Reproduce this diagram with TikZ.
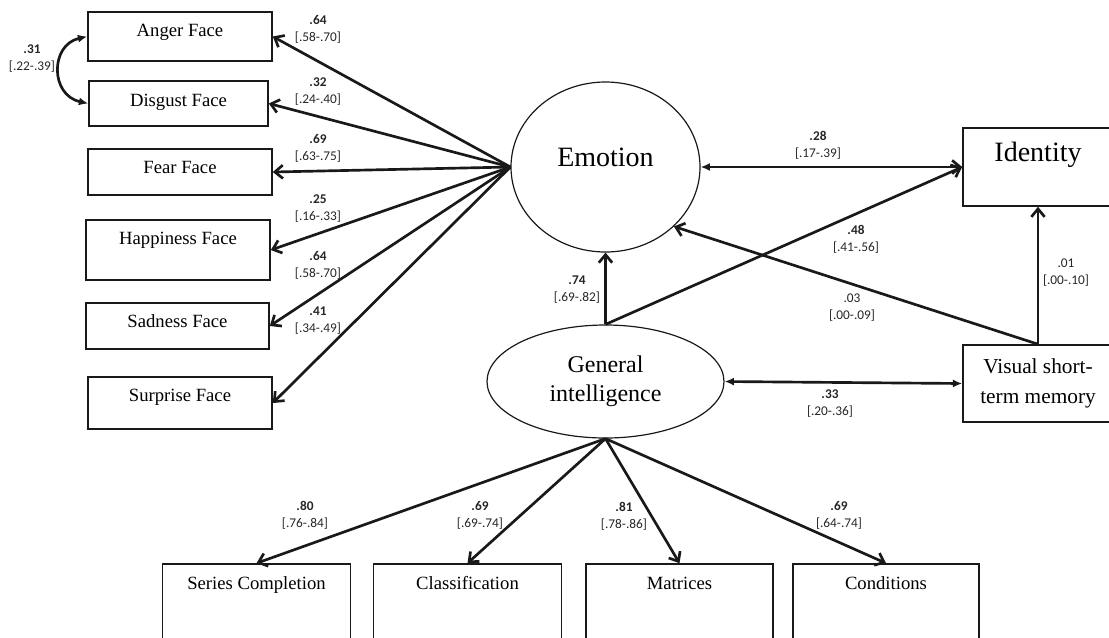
\documentclass[tikz,border=0pt]{standalone}
\usepackage{fontspec}
\setmainfont{Liberation Serif}
\newfontfamily\numfont{Carlito}
\usepackage{tikz}
\colorlet{colorLine}{black!90}
\colorlet{colorNum}{black!85}
\usetikzlibrary{arrows.meta}
\usetikzlibrary{shapes}
\tikzset{
   every path/.style={>={Straight Barb[length=6pt,width=10pt]}},
   obs/.style={draw=colorLine,line width=1.2pt,inner sep=0pt,font=\fontsize{14}{17}\selectfont},
   txtup/.style={text height=10pt,text depth=#1},
   lat/.style={ellipse,draw=colorLine,line width=0.9pt,inner sep=0pt,align=center},
   coef/.style={font=\numfont\fontsize{10}{12.75}\selectfont,align=center,inner sep=0pt,text=colorNum},
   load/.style={->,color=colorLine,line width=2pt},
   corr/.style={{Latex[length=7pt,width=6pt]}-{Latex[length=7pt,width=6pt]},color=colorLine,line width=2pt},
   corrid/.style={{Latex[length=7pt,width=6pt]}->,color=colorLine,line width=2pt},
}
\newcommand{\lEst}[2]{\textbf{#1}\\\relax[#2]}
\newcommand{\lNs}[2]{#1\\\relax[#2]}

\begin{document}
\begin{tikzpicture}[x=0.75pt,y=-0.75pt]
        \useasboundingbox (0,0) rectangle (1109,637);
        \clip (0,0) rectangle (1109,637);

        % emotion indicators
        \node[obs,minimum width=138pt,minimum height=36.75pt,txtup=10.6pt] (anger) at (180,36.5) {Anger Face};
        \node[obs,minimum width=134.25pt,minimum height=33.75pt,txtup=6pt] (disgust) at (178.5,103.5) {Disgust Face};
        \node[obs,minimum width=138pt,minimum height=34.5pt,txtup=8.3pt] (fear) at (180,172) {Fear Face};
        \node[obs,minimum width=138pt,minimum height=45pt,txtup=18pt] (happy) at (178,250) {Happiness Face};
        \node[obs,minimum width=137.25pt,minimum height=34.5pt,txtup=7.6pt] (sad) at (177.5,326) {Sadness Face};
        \node[obs,minimum width=138pt,minimum height=39pt,txtup=12.8pt] (surprise) at (180,403) {Surprise Face};

        % latent factors
        \node[lat,minimum width=141.75pt,minimum height=127.5pt,font=\fontsize{21}{25}\selectfont,text height=14pt,text depth=15pt] (emo) at (605.5,167) {Emotion};
        \node[lat,minimum width=177.75pt,minimum height=84.75pt,font=\fontsize{18}{21.75}\selectfont] (gi) at (605.5,381.5) {General\\intelligence};

        \node[obs,minimum width=112.5pt,minimum height=58.5pt,font=\fontsize{21}{25}\selectfont,text height=14.5pt,text depth=23.1pt] (ident) at (1038,167) {Identity};
        \node[obs,minimum width=112.5pt,minimum height=57.75pt,align=center,font=\fontsize{16}{22.5}\selectfont] (vstm) at (1038,383.5) {Visual short-\\term memory};

        % intelligence indicators
        \node[obs,minimum width=141pt,minimum height=75pt,txtup=47.3pt] (series) at (256.5,614) {Series Completion};
        \node[obs,minimum width=141pt,minimum height=75pt,txtup=47.3pt] (classif) at (467.5,614) {Classification};
        \node[obs,minimum width=140.25pt,minimum height=75pt,txtup=47.3pt] (matrices) at (679.5,614) {Matrices};
        \node[obs,minimum width=139.5pt,minimum height=75pt,txtup=47.3pt] (conds) at (886,614) {Conditions};

        \draw[load] (emo.west) -- (anger.east);
        \draw[load] (emo.west) -- (disgust.east);
        \draw[load] (emo.west) -- (fear.east);
        \draw[load] (emo.west) -- (happy.east);
        \draw[load] (emo.west) -- (sad.east);
        \draw[load] (emo.west) -- (surprise.east);

        \draw[corr] (anger.west) .. controls (50,45) and (50,95) .. (disgust.west);

        \draw[corrid] (emo.east) -- (ident.west);
        \draw[load] (gi.north) -- (emo.south);
        \draw[load] (gi.north) -- (ident.west);
        \draw[load] (vstm.north) -- (emo.-41.5);
        \draw[load] (vstm.north) -- (ident.south);
        \draw[corr] (gi.east) -- (vstm.west);

        \draw[load] (gi.south) -- (series.north);
        \draw[load] (gi.south) -- (classif.north);
        \draw[load] (gi.south) -- (matrices.north);
        \draw[load] (gi.south) -- (conds.north);

        % estimates
        \node[coef] (cAnger) at (318,29.5) {\lEst{.64}{.58-.70}};
        \node[coef] (cDisgust) at (318,91.5) {\lEst{.32}{.24-.40}};
        \node[coef] (cFear) at (318,148.5) {\lEst{.69}{.63-.75}};
        \node[coef] (cHappy) at (318,209) {\lEst{.25}{.16-.33}};
        \node[coef] (cSad) at (318,265) {\lEst{.64}{.58-.70}};
        \node[coef] (cSurprise) at (318,320.5) {\lEst{.41}{.34-.49}};
        \node[coef] (cCov) at (32,59) {\lEst{.31}{.22-.39}};

        \node[coef] (cEmoId) at (818,145.5) {\lEst{.28}{.17-.39}};
        \node[coef] (cGiId) at (856,239) {\lEst{.48}{.41-.56}};
        \node[coef] (cVsEmo) at (852,308) {\lNs{.03}{.00-.09}};
        \node[coef] (cVsId) at (1066,273) {\lNs{.01}{.00-.10}};
        \node[coef] (cGiVs) at (830,403.5) {\lEst{.33}{.20-.36}};
        \node[coef] (cGiEmo) at (577,290) {\lEst{.74}{.69-.82}};

        \node[coef] (cSeries) at (305,515.5) {\lEst{.80}{.76-.84}};
        \node[coef] (cClassif) at (480,515.5) {\lEst{.69}{.69-.74}};
        \node[coef] (cMatrices) at (624,516) {\lEst{.81}{.78-.86}};
        \node[coef] (cConds) at (839,515.5) {\lEst{.69}{.64-.74}};
\end{tikzpicture}
\end{document}
